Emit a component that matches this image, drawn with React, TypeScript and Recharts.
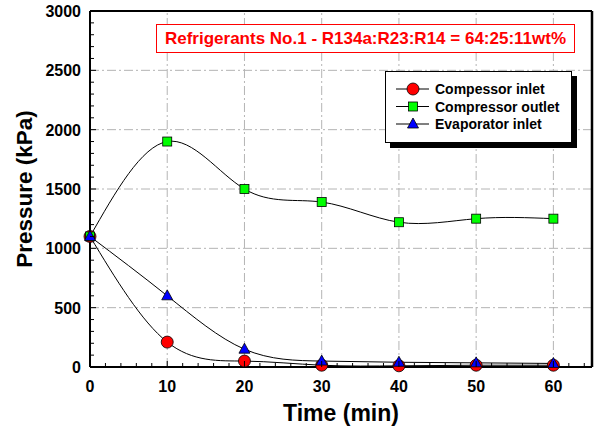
import { LineChart, Line, XAxis, YAxis, ReferenceLine, Label } from "recharts";

const times = [0, 10, 20, 30, 40, 50, 60];
const compressorInlet = [1100, 210, 50, 15, 10, 15, 15];
const compressorOutlet = [1100, 1900, 1500, 1390, 1220, 1250, 1250];
const evaporatorInlet = [1100, 600, 150, 50, 40, 35, 30];

const xTicks = Array.from({ length: 33 }, (_, i) => i * 2);
const yTicks = Array.from({ length: 31 }, (_, i) => i * 100);
const xGrid = [10, 20, 30, 40, 50, 60];
const yGrid = [500, 1000, 1500, 2000, 2500];

const chartTitle = "Refrigerants No.1 - R134a:R23:R14 = 64:25:11wt%";

const data = times.map((t, i) => ({
  time: t,
  inlet: compressorInlet[i],
  outlet: compressorOutlet[i],
  evap: evaporatorInlet[i],
}));

const font = "Arial, 'Liberation Sans', sans-serif";

const CircleDot = (props: any) => {
  const { cx, cy, index } = props;
  return <circle key={`c${index}`} cx={cx} cy={cy} r={6} fill="#ff0000" stroke="#000" strokeWidth={0.8} />;
};

const SquareDot = (props: any) => {
  const { cx, cy, index } = props;
  return <rect key={`s${index}`} x={cx - 4.5} y={cy - 4.5} width={9} height={9} fill="#00ff00" stroke="#000" strokeWidth={0.8} />;
};

const TriangleDot = (props: any) => {
  const { cx, cy, index } = props;
  return (
    <polygon
      key={`t${index}`}
      points={`${cx},${cy - 6} ${cx + 5.5},${cy + 4} ${cx - 5.5},${cy + 4}`}
      fill="#0000ff"
      stroke="#000"
      strokeWidth={0.8}
    />
  );
};

const XTick = (props: any) => {
  const { x, y, payload } = props;
  const major = payload.value % 10 === 0;
  return (
    <g>
      <line x1={x} x2={x} y1={y} y2={y - (major ? 6 : 4)} stroke="#000" strokeWidth={1} />
      {major && (
        <text x={x} y={y + 25} textAnchor="middle" fontFamily={font} fontWeight="bold" fontSize={16} fill="#000">
          {payload.value}
        </text>
      )}
    </g>
  );
};

const YTick = (props: any) => {
  const { x, y, payload } = props;
  const major = payload.value % 500 === 0;
  return (
    <g>
      <line x1={x} x2={x + (major ? 6 : 4)} y1={y} y2={y} stroke="#000" strokeWidth={1} />
      {major && (
        <text x={x - 9} y={y + 6} textAnchor="end" fontFamily={font} fontWeight="bold" fontSize={16} fill="#000">
          {payload.value}
        </text>
      )}
    </g>
  );
};

const legendItems = [
  { name: "Compessor inlet", Dot: CircleDot },
  { name: "Compressor outlet", Dot: SquareDot },
  { name: "Evaporator inlet", Dot: TriangleDot },
];

export default function App() {
  return (
    <div style={{ position: "absolute", left: 0, top: 0, width: 594, height: 426, background: "#fff" }}>
      <LineChart width={594} height={426} data={data} margin={{ top: 11, right: 2, bottom: 0, left: 0 }}>
        {xGrid.map((v) => (
          <ReferenceLine key={`gx${v}`} x={v} stroke="#b4b4b4" strokeDasharray="9 3 2 3" />
        ))}
        {yGrid.map((v) => (
          <ReferenceLine key={`gy${v}`} y={v} stroke="#b4b4b4" strokeDasharray="9 3 2 3" />
        ))}
        <XAxis
          dataKey="time"
          type="number"
          domain={[0, 65]}
          ticks={xTicks}
          interval={0}
          tickSize={0}
          tickMargin={0}
          tick={<XTick />}
          height={59}
          stroke="#000"
          strokeWidth={2}
        >
          <Label value="Time (min)" position="insideBottom" offset={5} style={{ fontFamily: font, fontWeight: "bold", fontSize: 23, fill: "#000" }} />
        </XAxis>
        <YAxis
          type="number"
          domain={[0, 3000]}
          ticks={yTicks}
          interval={0}
          tickSize={0}
          tickMargin={0}
          tick={<YTick />}
          width={90}
          stroke="#000"
          strokeWidth={2}
        >
          <Label
            value="Pressure (kPa)"
            angle={-90}
            position="insideLeft"
            offset={24}
            style={{ fontFamily: font, fontWeight: "bold", fontSize: 22.5, fill: "#000", textAnchor: "middle" }}
          />
        </YAxis>
        <ReferenceLine y={3000} stroke="#000" strokeWidth={2} />
        <ReferenceLine x={65} stroke="#000" strokeWidth={2.5} />
        <Line type="natural" dataKey="inlet" stroke="#000" strokeWidth={1} dot={<CircleDot />} isAnimationActive={false} />
        <Line type="natural" dataKey="outlet" stroke="#000" strokeWidth={1} dot={<SquareDot />} isAnimationActive={false} />
        <Line type="natural" dataKey="evap" stroke="#000" strokeWidth={1} dot={<TriangleDot />} isAnimationActive={false} />
      </LineChart>
      <div
        style={{
          position: "absolute",
          left: 156,
          top: 24,
          width: 419,
          height: 29,
          border: "1px solid #ff0000",
          background: "#fff",
          color: "#ff0000",
          fontFamily: font,
          fontWeight: "bold",
          fontSize: 17,
          lineHeight: "27px",
          textAlign: "center",
          boxSizing: "border-box",
          whiteSpace: "nowrap",
        }}
      >
        {chartTitle}
      </div>
      <div
        style={{
          position: "absolute",
          left: 385,
          top: 71,
          width: 187,
          height: 72,
          border: "1px solid #000",
          background: "#fff",
          boxShadow: "5px 5px 0 #000",
          boxSizing: "border-box",
        }}
      >
        <svg width={185} height={70} style={{ display: "block" }}>
          {legendItems.map(({ name, Dot }, i) => {
            const cy = 17 + i * 17.5;
            return (
              <g key={name}>
                <line x1={10} x2={43} y1={cy} y2={cy} stroke="#000" strokeWidth={1} />
                <Dot cx={27} cy={cy} index={i} />
                <text x={49} y={cy + 5} fontFamily={font} fontWeight="bold" fontSize={14} fill="#000">
                  {name}
                </text>
              </g>
            );
          })}
        </svg>
      </div>
    </div>
  );
}
